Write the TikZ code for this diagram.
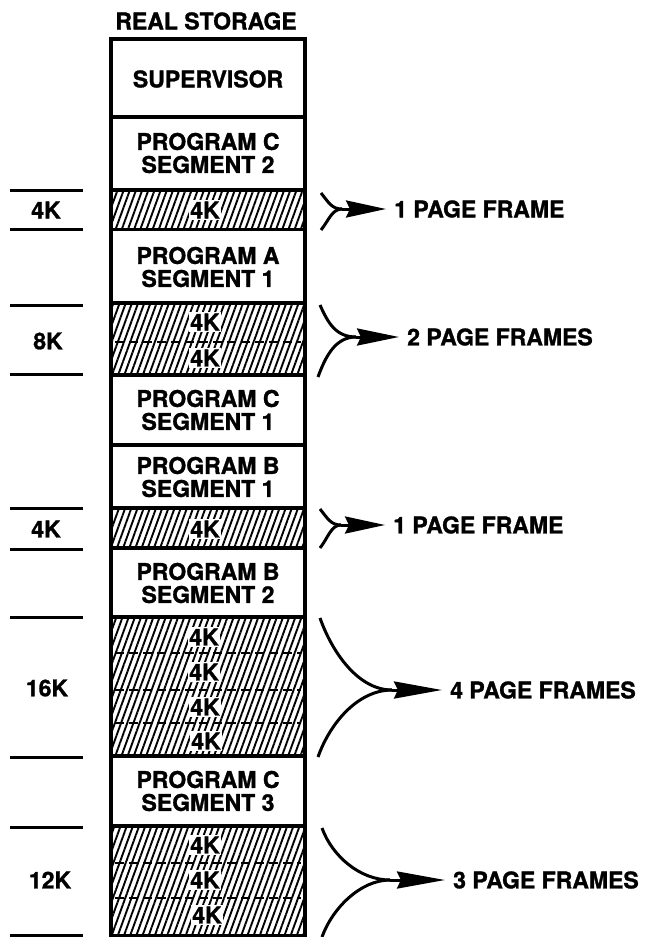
\documentclass[tikz,border=0pt]{standalone}
\usepackage{fontspec}
\setmainfont{TeX Gyre Heros}[BoldFeatures={FakeBold=1.2}]
\usetikzlibrary{positioning}
\usetikzlibrary{patterns.meta}
\usetikzlibrary{arrows.meta}

\begin{document}
\begin{tikzpicture}[x=1pt, y=-1pt,
  txt/.style={font=\fontsize{23}{23}\selectfont\bfseries, inner sep=0pt, align=center},
  kbox/.style={txt, fill=white, inner sep=1.5pt},
  hatch/.style={pattern={Lines[angle=70,distance=5.8pt,line width=1.9pt]}},
  border/.style={black, line width=3.2pt},
  sizeline/.style={black, line width=3pt},
  splitline/.style={black, line width=1.8pt, dash pattern=on 9pt off 5pt},
  brace/.style={black, line width=3pt},
  pfarrow/.style={black, line width=3pt, shorten >=8pt, -{Stealth[length=#1, width=17pt, inset=4pt]}}
]
\useasboundingbox (0,0) rectangle (664,937);

%hatched page frames
{
\fill[hatch] (111,190) rectangle (305,229);
\fill[hatch] (111,303) rectangle (305,375);
\fill[hatch] (111,508) rectangle (305,548);
\fill[hatch] (111,617) rectangle (305,756);
\fill[hatch] (111,826) rectangle (305,935);

\draw[splitline] (115,342)--(301,342);
\draw[splitline] (115,653)--(301,653);
\draw[splitline] (115,690)--(301,690);
\draw[splitline] (115,723)--(301,723);
\draw[splitline] (115,863)--(301,863);
\draw[splitline] (115,898)--(301,898);
}

%storage column
{
\draw[border] (111,39) rectangle (305,935.5);
\draw[border] (111,117)--++(194,0);
\draw[border] (111,190)--++(194,0);
\draw[border] (111,229.5)--++(194,0);
\draw[border] (111,303)--++(194,0);
\draw[border] (111,375)--++(194,0);
\draw[border] (111,445)--++(194,0);
\draw[border] (111,508)--++(194,0);
\draw[border] (111,548)--++(194,0);
\draw[border] (111,617)--++(194,0);
\draw[border] (111,756)--++(194,0);
\draw[border] (111,826)--++(194,0);
}

%size lines
{
\draw[sizeline] (10,190)--++(73,0);
\draw[sizeline] (10,229)--++(73,0);
\draw[sizeline] (10,305)--++(73,0);
\draw[sizeline] (10,374)--++(73,0);
\draw[sizeline] (10,508)--++(73,0);
\draw[sizeline] (10,549)--++(73,0);
\draw[sizeline] (10,617)--++(73,0);
\draw[sizeline] (10,757)--++(73,0);
\draw[sizeline] (10,827)--++(73,0);
\draw[sizeline] (10,935)--++(73,0);
}

% nodes
{
\node[txt] (title) at (206,21) {REAL STORAGE};
\node[txt] (sup) at (208,79) {SUPERVISOR};
\node[txt] (progc2) at (208,153) {PROGRAM C\\SEGMENT 2};
\node[kbox] (fra) at (205,210) {4K};
\node[txt] (proga1) at (208,267) {PROGRAM A\\SEGMENT 1};
\node[kbox] (frb) at (205,322) {4K};
\node[kbox] (frc) at (205,358) {4K};
\node[txt] (progc1) at (208,410) {PROGRAM C\\SEGMENT 1};
\node[txt] (progb1) at (208,477) {PROGRAM B\\SEGMENT 1};
\node[kbox] (frd) at (205,529) {4K};
\node[txt] (progb2) at (208,583) {PROGRAM B\\SEGMENT 2};
\node[kbox] (fre) at (204,637) {4K};
\node[kbox] (frf) at (204,672) {4K};
\node[kbox] (frg) at (205,707) {4K};
\node[kbox] (frh) at (206,741) {4K};
\node[txt] (progc3) at (208,791) {PROGRAM C\\SEGMENT 3};
\node[kbox] (fri) at (205,845) {4K};
\node[kbox] (frj) at (205,880) {4K};
\node[kbox] (frk) at (207,915) {4K};

\node[txt] (sza) at (46,210) {4K};
\node[txt] (szb) at (48,341) {8K};
\node[txt] (szc) at (46,529) {4K};
\node[txt] (szd) at (47,688) {16K};
\node[txt] (sze) at (50,880) {12K};

\node[txt, anchor=west] (pfa) at (394,209) {1 PAGE FRAME};
\node[txt, anchor=west] (pfb) at (407,337) {2 PAGE FRAMES};
\node[txt, anchor=west] (pfc) at (393,525) {1 PAGE FRAME};
\node[txt, anchor=west] (pfd) at (450,690) {4 PAGE FRAMES};
\node[txt, anchor=west] (pfe) at (453,880) {3 PAGE FRAMES};
}

%brackets
{
\coordinate (pfatop) at (321,193);
\coordinate (pfabot) at (321,230);
\coordinate (pfamid) at (342,209);
\draw[brace] (pfatop) .. controls +(8,10) and +(-10,0) .. (pfamid);
\draw[brace] (pfabot) .. controls +(8,-10) and +(-10,0) .. (pfamid);
\draw[pfarrow=40pt] (pfamid) -- (pfa);

\coordinate (pfbtop) at (320,305);
\coordinate (pfbbot) at (318,377);
\coordinate (pfbmid) at (356,337);
\draw[brace] (pfbtop) .. controls +(8,18) and +(-20,0) .. (pfbmid);
\draw[brace] (pfbbot) .. controls +(8,-22) and +(-20,0) .. (pfbmid);
\draw[pfarrow=42pt] (pfbmid) -- (pfb);

\coordinate (pfctop) at (320,509);
\coordinate (pfcbot) at (320,548);
\coordinate (pfcmid) at (341,525);
\draw[brace] (pfctop) .. controls +(8,10) and +(-10,0) .. (pfcmid);
\draw[brace] (pfcbot) .. controls +(8,-10) and +(-10,0) .. (pfcmid);
\draw[pfarrow=40pt] (pfcmid) -- (pfc);

\coordinate (pfdtop) at (320,618);
\coordinate (pfdbot) at (318,757);
\coordinate (pfdmid) at (392,690);
\draw[brace] (pfdtop) .. controls +(12,34) and +(-34,0) .. (pfdmid);
\draw[brace] (pfdbot) .. controls +(12,-34) and +(-34,0) .. (pfdmid);
\draw[pfarrow=48pt] (pfdmid) -- (pfd);

\coordinate (pfetop) at (322,828);
\coordinate (pfebot) at (322,937);
\coordinate (pfemid) at (390,880);
\draw[brace] (pfetop) .. controls +(10,28) and +(-30,0) .. (pfemid);
\draw[brace] (pfebot) .. controls +(10,-28) and +(-30,0) .. (pfemid);
\draw[pfarrow=48pt] (pfemid) -- (pfe);
}

\end{tikzpicture}
\end{document}
